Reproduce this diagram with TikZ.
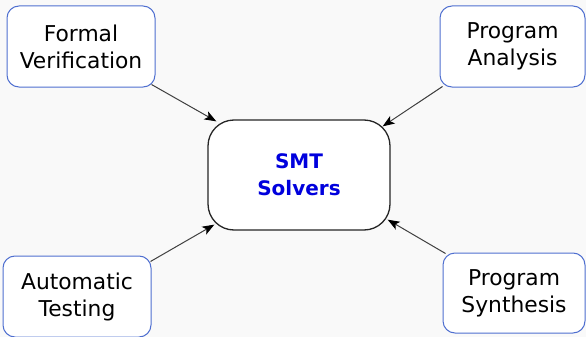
\documentclass[tikz,border=0pt]{standalone}
\usepackage{fontspec}
\setmainfont{DejaVu Sans}
\usetikzlibrary{arrows.meta}
\definecolor{bgc}{HTML}{F9F9F9}
\definecolor{boxline}{HTML}{4F6FD0}
\definecolor{smtblue}{HTML}{0000DD}
\definecolor{arrc}{HTML}{404040}
\tikzset{
  appbox/.style={draw=boxline, line width=1pt, fill=white, rounded corners=12pt,
    align=center, inner sep=0pt, font=\fontsize{21.8}{27}\selectfont, text=black},
  smtbox/.style={draw=black!85, line width=1.3pt, fill=white, rounded corners=26pt,
    align=center, inner sep=0pt, minimum width=182pt, minimum height=110pt,
    font=\fontsize{20}{27}\selectfont\bfseries, text=smtblue},
  arr/.style={draw=arrc, line width=1pt, -{Stealth[length=12pt,width=9pt,inset=3pt,color=black]}}
}
\begin{document}
\begin{tikzpicture}[x=1pt,y=-1pt]
\useasboundingbox (0,0) rectangle (586,337);
\fill[bgc] (0,0) rectangle (586,337);
\node[smtbox] (smt) at (299,175) {SMT\\Solvers};
\node[appbox, minimum width=148pt, minimum height=81pt] (fv) at (81,46.5) {Formal\\Verification};
\node[appbox, minimum width=145pt, minimum height=81pt] (pa) at (512.5,46.5) {Program\\Analysis};
\node[appbox, minimum width=148pt, minimum height=81pt] (at) at (77,296.5) {Automatic\\Testing};
\node[appbox, minimum width=142pt, minimum height=80pt] (ps) at (514,293) {Program\\Synthesis};
\draw[arr] ([shift={(-4,-3)}]fv.south east) -- ([shift={(9,2)}]smt.north west);
\draw[arr] ([shift={(3,-1)}]pa.south west) -- ([shift={(-8,7)}]smt.north east);
\draw[arr] ([shift={(-1,6)}]at.north east) -- ([shift={(7,-6)}]smt.south west);
\draw[arr] ([shift={(3,1)}]ps.north west) -- ([shift={(-3,-11)}]smt.south east);
\end{tikzpicture}
\end{document}
